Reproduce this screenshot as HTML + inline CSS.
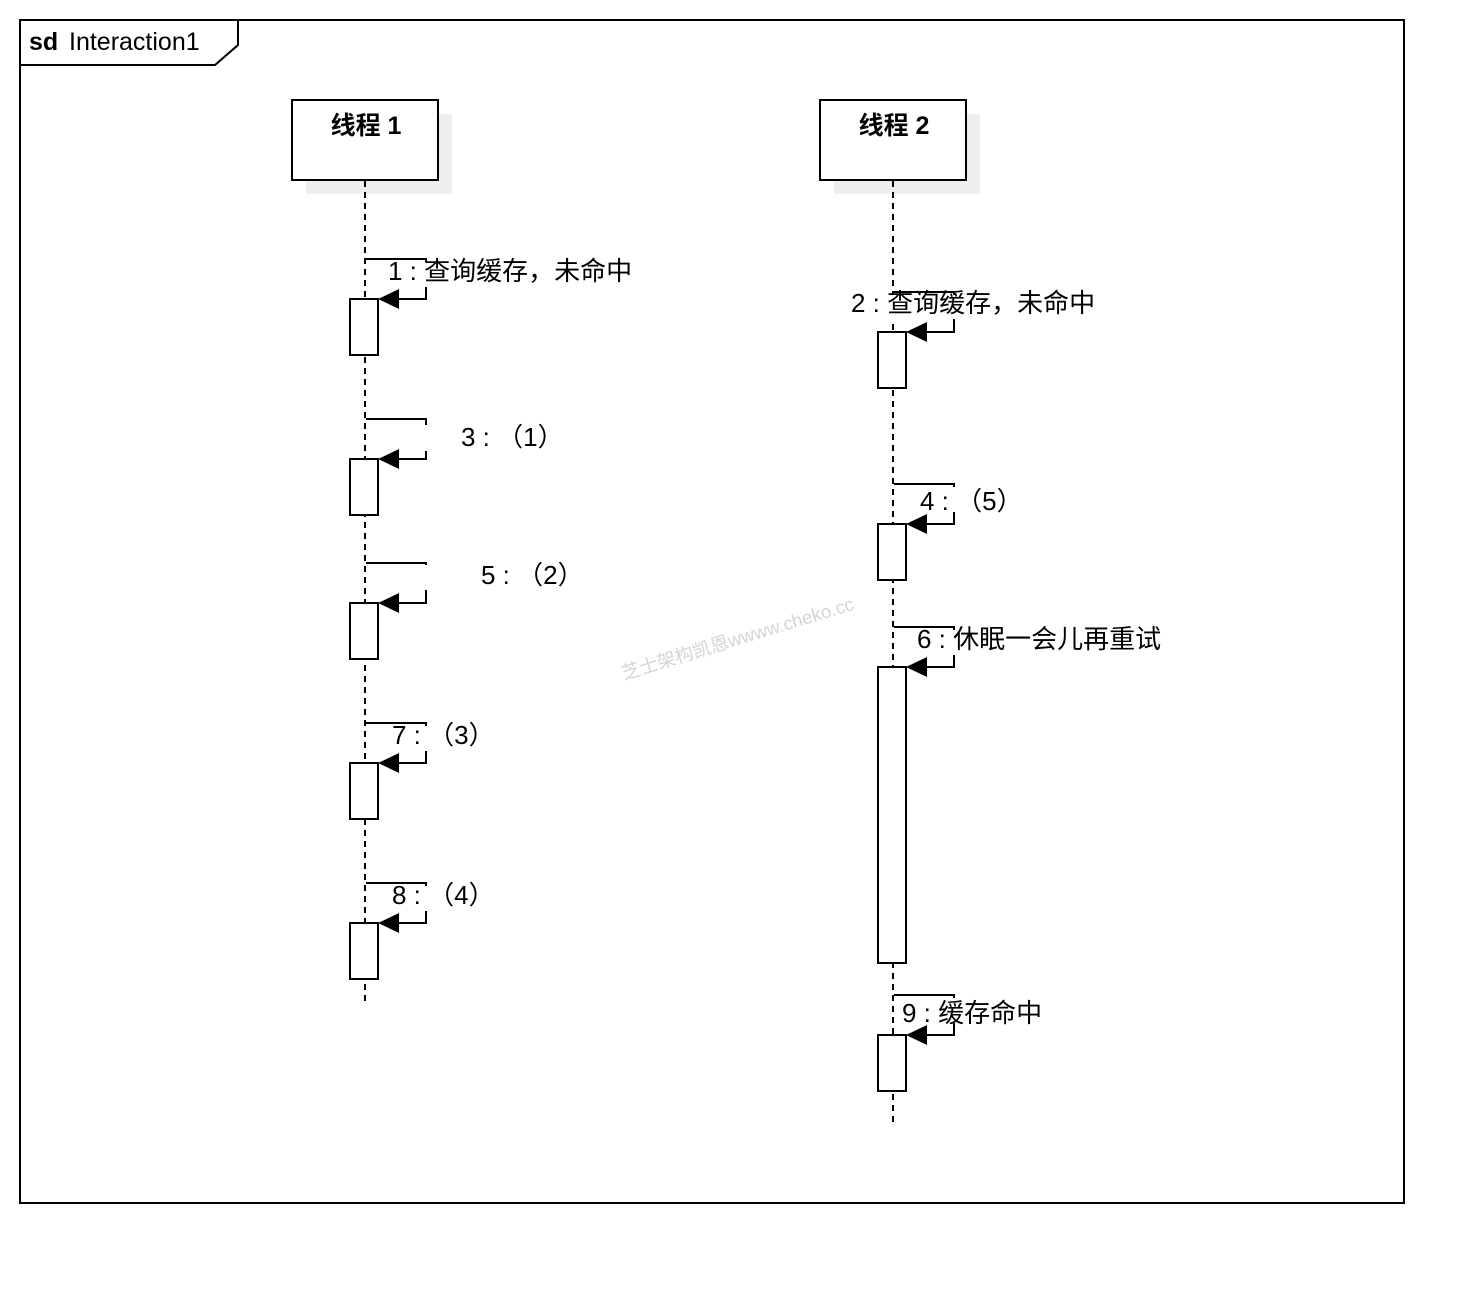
<!DOCTYPE html>
<html><head><meta charset="utf-8"><style>
html,body{margin:0;padding:0;background:#fff;}
svg text{font-family:"Liberation Sans","Noto Sans CJK SC",sans-serif;fill:#000;}
</style></head><body>
<svg width="1484" height="1284" viewBox="0 0 1484 1284" xmlns="http://www.w3.org/2000/svg">
<rect x="0" y="0" width="1484" height="1284" fill="#fff"/>
<rect x="20" y="20" width="1384" height="1183" fill="none" stroke="#000" stroke-width="2"/>
<polyline points="20,65 215,65 238,45 238,20" fill="none" stroke="#000" stroke-width="2"/>
<text x="29" y="50" font-size="25" font-weight="bold">sd</text>
<text x="69" y="50" font-size="25">Interaction1</text>

<text x="624" y="680" font-size="18.5" style="fill:#d4d4d4" transform="rotate(-17 624 680)">芝士架构凯恩wwww.cheko.cc</text>

<rect x="306" y="114" width="146" height="80" fill="#eeeeee"/>
<rect x="292" y="100" width="146" height="80" fill="#fff" stroke="#000" stroke-width="2"/>
<text x="366" y="134" font-size="25" font-weight="bold" text-anchor="middle">线程 1</text>
<rect x="834" y="114" width="146" height="80" fill="#eeeeee"/>
<rect x="820" y="100" width="146" height="80" fill="#fff" stroke="#000" stroke-width="2"/>
<text x="894" y="134" font-size="25" font-weight="bold" text-anchor="middle">线程 2</text>

<line x1="365" y1="181" x2="365" y2="1005" stroke="#000" stroke-width="2" stroke-dasharray="6,5"/>
<line x1="893" y1="181" x2="893" y2="1125" stroke="#000" stroke-width="2" stroke-dasharray="6,5"/>

<g stroke="#000" stroke-width="2" fill="none">
<polyline points="366,259 426,259 426,299 380,299"/>
<polyline points="366,419 426,419 426,459 380,459"/>
<polyline points="366,563 426,563 426,603 380,603"/>
<polyline points="366,723 426,723 426,763 380,763"/>
<polyline points="366,883 426,883 426,923 380,923"/>
<polyline points="894,292 954,292 954,332 908,332"/>
<polyline points="894,484 954,484 954,524 908,524"/>
<polyline points="894,627 954,627 954,667 908,667"/>
<polyline points="894,995 954,995 954,1035 908,1035"/>
</g>
<g fill="#000">
<polygon points="378,299 399,289 399,309"/>
<polygon points="378,459 399,449 399,469"/>
<polygon points="378,603 399,593 399,613"/>
<polygon points="378,763 399,753 399,773"/>
<polygon points="378,923 399,913 399,933"/>
<polygon points="906,332 927,322 927,342"/>
<polygon points="906,524 927,514 927,534"/>
<polygon points="906,667 927,657 927,677"/>
<polygon points="906,1035 927,1025 927,1045"/>
</g>
<g fill="#fff" stroke="#000" stroke-width="2">
<rect x="350" y="299" width="28" height="56"/>
<rect x="350" y="459" width="28" height="56"/>
<rect x="350" y="603" width="28" height="56"/>
<rect x="350" y="763" width="28" height="56"/>
<rect x="350" y="923" width="28" height="56"/>
<rect x="878" y="332" width="28" height="56"/>
<rect x="878" y="524" width="28" height="56"/>
<rect x="878" y="667" width="28" height="296"/>
<rect x="878" y="1035" width="28" height="56"/>
</g>
<g fill="#fff">
<rect x="386" y="262" width="248" height="25"/>
<rect x="424" y="425" width="128" height="26"/>
<rect x="424" y="565" width="148" height="25"/>
<rect x="849" y="295" width="249" height="24"/>
<rect x="918" y="487" width="92" height="25"/>
<rect x="915" y="630" width="249" height="25"/>
<rect x="900" y="998" width="144" height="25"/>
<rect x="390" y="726" width="92" height="25"/>
<rect x="390" y="886" width="92" height="25"/>
</g>
<g font-size="26">
<text x="388" y="280">1 : 查询缓存，未命中</text>
<text x="461" y="446">3 : （1）</text>
<text x="481" y="584">5 : （2）</text>
<text x="392" y="744">7 : （3）</text>
<text x="392" y="904">8 : （4）</text>
<text x="851" y="312">2 : 查询缓存，未命中</text>
<text x="920" y="510">4 : （5）</text>
<text x="917" y="648">6 : 休眠一会儿再重试</text>
<text x="902" y="1022">9 : 缓存命中</text>
</g>
</svg>
</body></html>
